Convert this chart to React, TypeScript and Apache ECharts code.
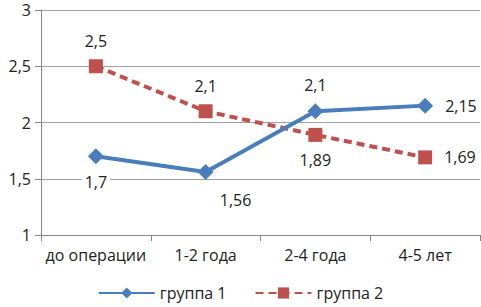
import React, { useEffect, useRef } from "react";
import * as echarts from "echarts";

const categories = ["до операции", "1-2 года", "2-4 года", "4-5 лет"];
const group1 = [1.7, 1.56, 2.1, 2.15];
const group2 = [2.5, 2.1, 1.89, 1.69];
const seriesNames = ["группа 1", "группа 2"];

const FONT = "Open Sans";
const FS = 16;
const fmt = (v: number) => String(v).replace(".", ",");

export default function App() {
  const ref = useRef<HTMLDivElement>(null);
  useEffect(() => {
    if (!ref.current) return;
    const chart = echarts.init(ref.current, null, { renderer: "svg" });
    const pos1 = ["bottom", "bottom", "top", "right"];
    const off1 = [[0, 0], [30, 2], [0, 0], [0, 0]];
    const pos2 = ["top", "top", "bottom", "right"];
    const lbl = {
      show: true,
      fontFamily: FONT,
      fontSize: FS,
      color: "#222",
      backgroundColor: "#fff",
      padding: [1, 3],
      distance: 9,
      formatter: (p: any) => fmt(p.value),
    };
    chart.setOption({
      animation: false,
      textStyle: { fontFamily: FONT },
      grid: { left: 41, right: 1, top: 10, bottom: 72, containLabel: false },
      xAxis: {
        type: "category",
        data: categories,
        boundaryGap: true,
        axisLine: { lineStyle: { color: "#868686", width: 1 } },
        axisTick: { show: true, length: 6, lineStyle: { color: "#868686" } },
        axisLabel: { fontFamily: FONT, fontSize: FS, color: "#222", margin: 12, interval: 0 },
      },
      yAxis: {
        type: "value",
        min: 1,
        max: 3,
        interval: 0.5,
        axisLine: { show: true, lineStyle: { color: "#868686", width: 1 } },
        axisTick: { show: true, length: 6, lineStyle: { color: "#868686" } },
        splitLine: { lineStyle: { color: "#a0a0a0", width: 1 } },
        axisLabel: {
          fontFamily: FONT,
          fontSize: FS,
          color: "#222",
          margin: 10,
          formatter: (v: number) => fmt(v),
        },
      },
      legend: {
        bottom: 1,
        left: "center",
        itemWidth: 56,
        itemHeight: 14,
        itemGap: 28,
        textStyle: { fontFamily: FONT, fontSize: FS, color: "#222" },
        data: seriesNames,
      },
      series: [
        {
          name: seriesNames[0],
          type: "line",
          data: group1.map((v, i) => ({ value: v, label: { position: pos1[i], offset: off1[i] } })),
          symbol: "diamond",
          symbolSize: 16,
          itemStyle: { color: "#4A7EBB" },
          lineStyle: { color: "#4A7EBB", width: 4 },
          label: lbl,
          z: 3,
        },
        {
          name: seriesNames[1],
          type: "line",
          data: group2.map((v, i) => ({ value: v, label: { position: pos2[i] } })),
          symbol: "rect",
          symbolSize: 14,
          itemStyle: { color: "#C0504D" },
          lineStyle: { color: "#C0504D", width: 4, type: [8, 5] },
          label: lbl,
          z: 2,
        },
      ],
    });
    return () => chart.dispose();
  }, []);
  return (
    <div
      ref={ref}
      style={{ position: "fixed", left: 0, top: 0, width: 481, height: 307, background: "#fff" }}
    />
  );
}
